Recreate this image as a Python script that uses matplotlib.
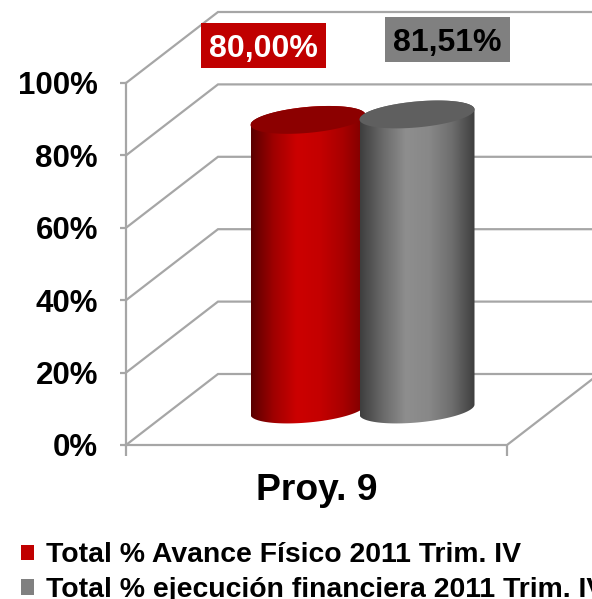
import numpy as np
import matplotlib
matplotlib.use("Agg")
import matplotlib.pyplot as plt
from matplotlib.patches import Patch, Polygon, Rectangle
from matplotlib.colors import LinearSegmentedColormap

categories = ["Proy. 9"]
series_names = ["Total % Avance Físico 2011 Trim. IV",
                "Total % ejecución financiera 2011 Trim. IV"]
series_values = [80.00, 81.51]
value_labels = ["80,00%", "81,51%"]
y_ticks = [0, 20, 40, 60, 80, 100]
y_tick_labels = ["0%", "20%", "40%", "60%", "80%", "100%"]
series_colors = ["#C00000", "#808080"]

plt.rcParams["font.family"] = ["Liberation Sans", "DejaVu Sans"]
W, H = 592, 599
fig = plt.figure(figsize=(W / 100, H / 100), dpi=100, facecolor="white")

# front plane of the pseudo-3D box, in pixels
L, R, T, B = 126, 507, 83, 445
ax = fig.add_axes([L / W, 1 - B / H, (R - L) / W, (B - T) / H])
ax.set_xlim(0, R - L)
ax.set_ylim(0, 100)
ax.patch.set_alpha(0)
py = 100 / (B - T)          # value units per pixel
depth_x, depth_y = 92, 71 * py

GRID = "#A6A6A6"
lw = 1.6
for v in y_ticks:
    ax.plot([0, depth_x, R - L + depth_x], [v, v + depth_y, v + depth_y],
            color=GRID, lw=lw, clip_on=False, zorder=1, solid_joinstyle="miter")
ax.plot([0, R - L, R - L + depth_x], [0, 0, depth_y], color=GRID, lw=lw, clip_on=False, zorder=1)

for s in ["top", "right", "bottom"]:
    ax.spines[s].set_visible(False)
ax.spines["left"].set_color(GRID)
ax.spines["left"].set_linewidth(lw)
ax.set_yticks(y_ticks)
ax.set_yticklabels(y_tick_labels, fontsize=22.5, fontweight="bold", color="black")
ax.tick_params(axis="y", length=4.5, width=lw, color=GRID, pad=15.7)
ax.set_xticks([0, R - L])
ax.set_xticklabels(["", ""])
ax.tick_params(axis="x", length=8, width=lw, color=GRID)
ax.text((R - L) / 2 + 0.5, -(490 - B) * py, categories[0], ha="center", va="center",
        fontsize=26.8, fontweight="bold", color="black", clip_on=False)

# cylinders
bar_w, spacing = 115, 109
a = bar_w / 2
b = 13 * py
shear = (10 / 115) * py
t = np.linspace(0, 2 * np.pi, 181)
ramps = [["#5A0000", "#A00000", "#CC0000", "#C40000", "#A80000", "#7A0000"],
         ["#3E3E3E", "#6A6A6A", "#8E8E8E", "#888888", "#6E6E6E", "#3E3E3E"]]
tops = ["#8C0000", "#5F5F5F"]
mid = (R - L) / 2

for i, v in enumerate(series_values):
    cx = mid + (i - 0.5) * spacing
    base = depth_y / 2
    top = base + v
    ex = cx + depth_x / 2 + a * np.cos(t)
    dy = shear * a * np.cos(t) + b * np.sin(t)
    xs = np.r_[ex[90:], ex[:91]]
    ys = np.r_[base + dy[90:], top + dy[:91]]
    body = Polygon(np.c_[xs, ys], closed=True, transform=ax.transData,
                   facecolor="none", edgecolor="none")
    ax.add_patch(body)
    cmap = LinearSegmentedColormap.from_list("r", ramps[i])
    im = ax.imshow(np.linspace(0, 1, 256)[None, :], cmap=cmap, aspect="auto",
                   extent=[cx + depth_x / 2 - a, cx + depth_x / 2 + a, base - 20, top + 20],
                   zorder=3 + i, clip_on=True, interpolation="bilinear")
    im.set_clip_path(body)
    ax.fill(ex, top + dy, color=tops[i], lw=0, zorder=3 + i, clip_on=False)

ax.set_xlim(0, R - L)
ax.set_ylim(0, 100)

# value labels
label_boxes = [(201, 23, 125, 45), (385, 17, 125, 45)]
text_cols = ["white", "black"]
for lab, (x0, y0, w, h), c, tc in zip(value_labels, label_boxes, series_colors, text_cols):
    fig.add_artist(Rectangle((x0 / W, 1 - (y0 + h) / H), w / W, h / H, transform=fig.transFigure,
                             facecolor=c, edgecolor="none", zorder=9))
    fig.text((x0 + w / 2) / W, 1 - (y0 + h / 2 + 3.5) / H, lab, ha="center", va="center",
             fontsize=23, fontweight="bold", color=tc, zorder=10)

handles = [Patch(facecolor=c, edgecolor="none") for c in series_colors]
fig.legend(handles, series_names, loc="lower left", bbox_to_anchor=(21 / W, 1 - 603 / H),
           frameon=False, prop=dict(weight="bold", size=20.45),
           handlelength=0.46, handleheight=0.46, handletextpad=0.42, labelspacing=0.3,
           borderpad=0, borderaxespad=0)

fig.savefig("out.png", dpi=100)
